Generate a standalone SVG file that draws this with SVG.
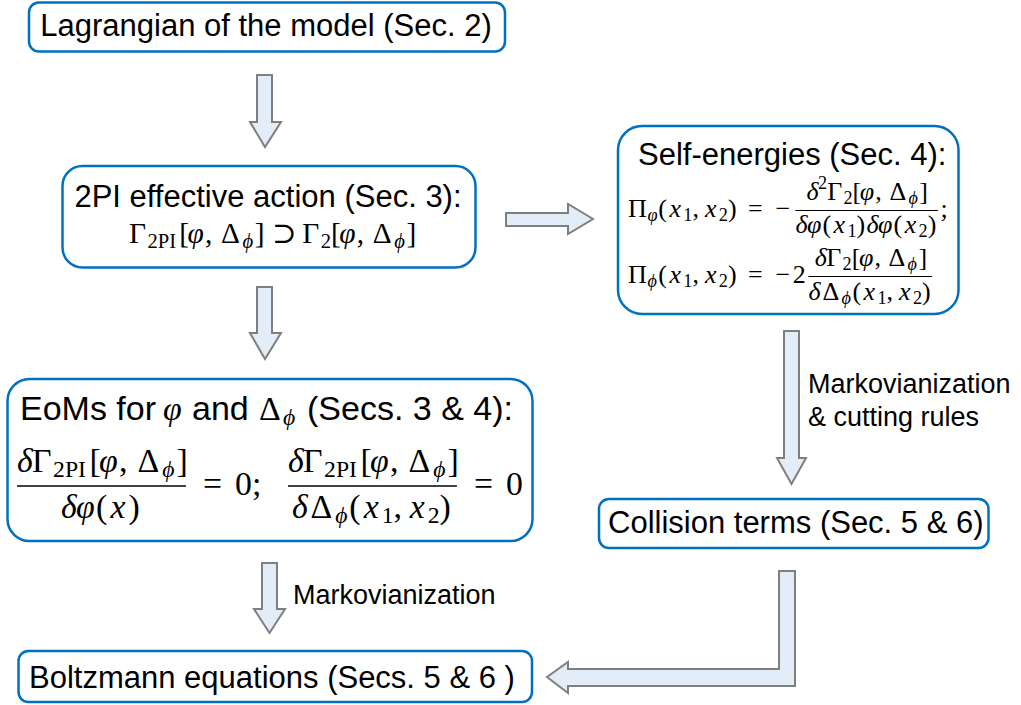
<svg xmlns="http://www.w3.org/2000/svg" width="1021" height="705" viewBox="0 0 1021 705">
<style>
.box{fill:#fff;stroke:#0070C0;stroke-width:2.5}
.arr{fill:#E2EDF8;stroke:#7F7F7F;stroke-width:2;stroke-linejoin:miter}
.t{font-family:"Liberation Sans",Arial,sans-serif;fill:#000}
.m{font-family:"Liberation Serif","Times New Roman","DejaVu Serif",serif;fill:#000}
.i{font-style:italic}
.bar{stroke:#000}
</style>
<rect width="1021" height="705" fill="#fff"/>

<g id="connectors">
  <polygon class="arr" points="257,75 272,75 272,122 281,122 265,147 250,122 257,122"/>
  <polygon class="arr" points="506,213 568,213 568,204 593,219 568,234 568,226 506,226"/>
  <polygon class="arr" points="257,287 272,287 272,333 281,333 265,359 250,333 257,333"/>
  <polygon class="arr" points="784,331 799,331 799,458 806,458 791.5,484 777,458 784,458"/>
  <polygon class="arr" points="262,563 277,563 277,609 285,609 269.5,633 254,609 262,609"/>
  <polygon class="arr" points="779,571 795,571 795,686 568,686 568,693 547,677 568,662 568,669 779,669"/>
  <text class="t" x="808" y="393" font-size="27">Markovianization</text>
  <text class="t" x="808" y="426" font-size="27">&amp; cutting rules</text>
  <text class="t" x="293" y="604" font-size="27">Markovianization</text>
</g>

<g id="lagrangian">
  <rect class="box" x="29" y="2.5" width="476" height="49" rx="10"/>
  <text class="t" x="266" y="36" font-size="31" text-anchor="middle">Lagrangian of the model (Sec. 2)</text>
</g>

<g id="effective-action">
  <rect class="box" x="62.5" y="166" width="413" height="101.5" rx="20"/>
  <text class="t" x="268" y="207" font-size="31" text-anchor="middle">2PI effective action (Sec. 3):</text>
  <text class="m" font-size="29.4" y="243">
    <tspan x="129">Γ</tspan><tspan x="147.4" y="248" font-size="20.6">2PI</tspan><tspan x="179.2" y="243">[</tspan><tspan x="187.4" class="i">φ</tspan><tspan x="204.9">,</tspan><tspan x="221">Δ</tspan><tspan x="242.5" y="248" font-size="20.6" class="i">ϕ</tspan><tspan x="254.8" y="243">]</tspan><tspan x="272">⊃</tspan><tspan x="302.3">Γ</tspan><tspan x="320.7" y="248" font-size="20.6">2</tspan><tspan x="331" y="243">[</tspan><tspan x="339.2" class="i">φ</tspan><tspan x="356.7">,</tspan><tspan x="372.8">Δ</tspan><tspan x="394.3" y="248" font-size="20.6" class="i">ϕ</tspan><tspan x="406.6" y="243">]</tspan>
  </text>
</g>

<g id="self-energies">
  <rect class="box" x="618" y="126" width="340.5" height="188" rx="24"/>
  <text class="t" x="638" y="165" font-size="31">Self-energies (Sec. 4):</text>
  <text class="m" font-size="26" y="217">
    <tspan x="628">Π</tspan><tspan x="647.5" y="221" font-size="18.2" class="i">φ</tspan><tspan x="658.3" y="217">(</tspan><tspan x="669.5" class="i">x</tspan><tspan x="683.3" y="221" font-size="18.2">1</tspan><tspan x="692.4" y="217">,</tspan><tspan x="705" class="i">x</tspan><tspan x="718.8" y="221" font-size="18.2">2</tspan><tspan x="727.9" y="217">)</tspan><tspan x="748">=</tspan><tspan x="775.4">−</tspan><tspan x="940.5">;</tspan>
  </text>
  <text class="m" font-size="26" y="200">
    <tspan x="806.6" class="i">δ</tspan><tspan x="818.1" y="189" font-size="18.2">2</tspan><tspan x="827.2" y="200">Γ</tspan><tspan x="843.5" y="204" font-size="18.2">2</tspan><tspan x="852.6" y="200">[</tspan><tspan x="859.8" class="i">φ</tspan><tspan x="875.3">,</tspan><tspan x="889.5">Δ</tspan><tspan x="908.5" y="204" font-size="18.2" class="i">ϕ</tspan><tspan x="919.3" y="200">]</tspan>
  </text>
  <line class="bar" x1="795.4" y1="210.5" x2="937.9" y2="210.5" stroke-width="1.1"/>
  <text class="m" font-size="26" y="233">
    <tspan x="795.4" class="i">δ</tspan><tspan x="806.9" class="i">φ</tspan><tspan x="822.4">(</tspan><tspan x="833.6" class="i">x</tspan><tspan x="847.4" y="237" font-size="18.2">1</tspan><tspan x="856.5" y="233">)</tspan><tspan x="866.6" class="i">δ</tspan><tspan x="878.1" class="i">φ</tspan><tspan x="893.6">(</tspan><tspan x="904.8" class="i">x</tspan><tspan x="918.6" y="237" font-size="18.2">2</tspan><tspan x="927.7" y="233">)</tspan>
  </text>

  <text class="m" font-size="26" y="283">
    <tspan x="628">Π</tspan><tspan x="647.5" y="287" font-size="18.2" class="i">ϕ</tspan><tspan x="658.3" y="283">(</tspan><tspan x="669.5" class="i">x</tspan><tspan x="683.3" y="287" font-size="18.2">1</tspan><tspan x="692.4" y="283">,</tspan><tspan x="705" class="i">x</tspan><tspan x="718.8" y="287" font-size="18.2">2</tspan><tspan x="727.9" y="283">)</tspan><tspan x="748">=</tspan><tspan x="775.4">−</tspan><tspan x="792.8">2</tspan>
  </text>
  <text class="m" font-size="26" y="266">
    <tspan x="814.8" class="i">δ</tspan><tspan x="826.3">Γ</tspan><tspan x="842.6" y="270" font-size="18.2">2</tspan><tspan x="851.7" y="266">[</tspan><tspan x="858.9" class="i">φ</tspan><tspan x="874.4">,</tspan><tspan x="888.6">Δ</tspan><tspan x="907.6" y="270" font-size="18.2" class="i">ϕ</tspan><tspan x="918.4" y="266">]</tspan>
  </text>
  <line class="bar" x1="808.4" y1="276.5" x2="932.2" y2="276.5" stroke-width="1.1"/>
  <text class="m" font-size="26" y="300">
    <tspan x="808.4" class="i">δ</tspan><tspan x="822.6">Δ</tspan><tspan x="841.6" y="304" font-size="18.2" class="i">ϕ</tspan><tspan x="852.4" y="300">(</tspan><tspan x="863.6" class="i">x</tspan><tspan x="877.4" y="304" font-size="18.2">1</tspan><tspan x="886.5" y="300">,</tspan><tspan x="899.1" class="i">x</tspan><tspan x="912.9" y="304" font-size="18.2">2</tspan><tspan x="922" y="300">)</tspan>
  </text>
</g>

<g id="eoms">
  <rect class="box" x="7.5" y="379" width="525" height="162" rx="22"/>
  <text y="420">
    <tspan class="t" x="20" font-size="34">EoMs for</tspan><tspan class="m i" x="163" font-size="33.8">φ</tspan><tspan class="t" x="192" font-size="34">and</tspan><tspan class="m" x="259" font-size="33.8">Δ</tspan><tspan class="m i" x="283" y="425" font-size="23.7">ϕ</tspan><tspan class="t" x="307" y="420" font-size="34">(Secs. 3 &amp; 4):</tspan>
  </text>
  <text class="m" font-size="33.8" y="471.6">
    <tspan x="17" class="i">δ</tspan><tspan x="32">Γ</tspan><tspan x="53.1" y="476.6" font-size="23.7">2PI</tspan><tspan x="89.6" y="471.6">[</tspan><tspan x="99" class="i">φ</tspan><tspan x="119.1">,</tspan><tspan x="137.5">Δ</tspan><tspan x="162.3" y="476.6" font-size="23.7" class="i">ϕ</tspan><tspan x="176.4" y="471.6">]</tspan>
  </text>
  <line class="bar" x1="17" y1="486" x2="185.9" y2="486" stroke-width="1.4"/>
  <text class="m" font-size="33.8" y="517.7">
    <tspan x="61" class="i">δ</tspan><tspan x="76" class="i">φ</tspan><tspan x="96.1">(</tspan><tspan x="110.5" class="i">x</tspan><tspan x="128.5">)</tspan>
  </text>
  <text class="m" font-size="33.8" y="494.5">
    <tspan x="203">=</tspan><tspan x="235.1">0;</tspan><tspan x="474">=</tspan><tspan x="506.1">0</tspan>
  </text>
  <text class="m" font-size="33.8" y="471.6">
    <tspan x="288" class="i">δ</tspan><tspan x="303">Γ</tspan><tspan x="324.1" y="476.6" font-size="23.7">2PI</tspan><tspan x="360.6" y="471.6">[</tspan><tspan x="370" class="i">φ</tspan><tspan x="390.1">,</tspan><tspan x="408.5">Δ</tspan><tspan x="433.3" y="476.6" font-size="23.7" class="i">ϕ</tspan><tspan x="447.4" y="471.6">]</tspan>
  </text>
  <line class="bar" x1="288" y1="486" x2="456.9" y2="486" stroke-width="1.4"/>
  <text class="m" font-size="33.8" y="517.7">
    <tspan x="292" class="i">δ</tspan><tspan x="310.4">Δ</tspan><tspan x="335.2" y="522.7" font-size="23.7" class="i">ϕ</tspan><tspan x="349.3" y="517.7">(</tspan><tspan x="363.7" class="i">x</tspan><tspan x="381.7" y="522.7" font-size="23.7">1</tspan><tspan x="393.5" y="517.7">,</tspan><tspan x="409.8" class="i">x</tspan><tspan x="427.8" y="522.7" font-size="23.7">2</tspan><tspan x="439.6" y="517.7">)</tspan>
  </text>
</g>

<g id="collision-terms">
  <rect class="box" x="599" y="499" width="389.5" height="49" rx="10"/>
  <text class="t" x="608" y="533" font-size="31">Collision terms (Sec. 5 &amp; 6)</text>
</g>

<g id="boltzmann">
  <rect class="box" x="18.5" y="651" width="513.5" height="51" rx="10"/>
  <text class="t" x="29" y="688" font-size="31">Boltzmann equations (Secs. 5 &amp; 6 )</text>
</g>
</svg>
